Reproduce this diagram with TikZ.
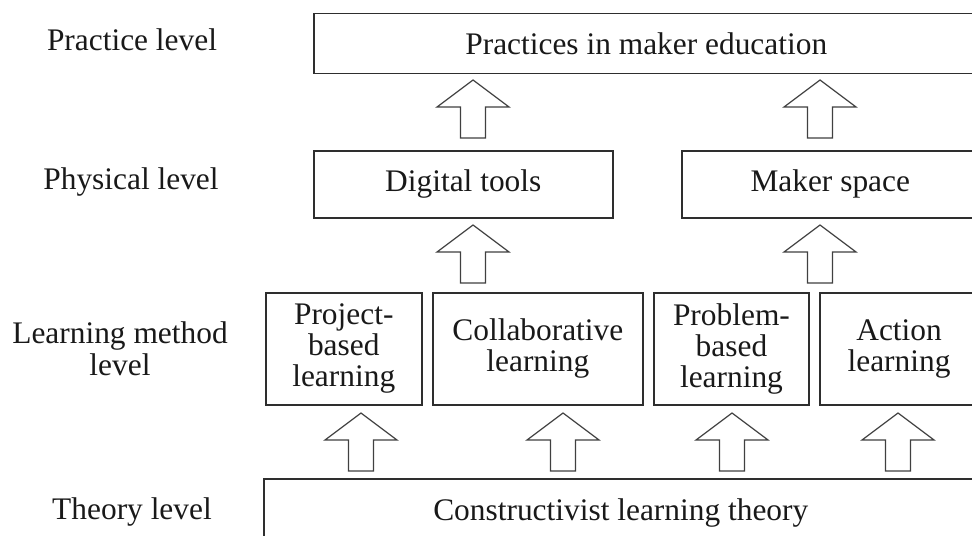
\documentclass[tikz,border=0pt]{standalone}
\usepackage{fontspec}
\setmainfont{Liberation Serif}
\usepackage{tikz}
\usetikzlibrary{positioning}
\definecolor{inkgray}{HTML}{2E2E2E}
\tikzset{
  levelbox/.style={
    draw=inkgray,
    line width=0.75pt,
    align=center,
    anchor=north west,
    inner sep=2pt,
    text=black!90,
    font=\fontsize{15.7pt}{15.4pt}\selectfont
  },
  levellabel/.style={
    align=center,
    inner sep=0pt,
    text=black!90,
    font=\fontsize{15.7pt}{16pt}\selectfont
  },
  hollowup/.pic={
    \draw[draw=black!75,line width=0.6pt,fill=white]
      (0,0) -- (36,27) -- (12.5,27) -- (12.5,58) -- (-12.5,58)
      -- (-12.5,27) -- (-36,27) -- cycle;
  }
}

\begin{document}
\begin{tikzpicture}[x=0.5pt,y=-0.5pt,node distance=4.8pt]
  \useasboundingbox (0,0) rectangle (972,535);
  \clip (0,0) rectangle (972,535);

  % level names on the left
  \node[levellabel] (lpractice) at (132,40) {Practice level};
  \node[levellabel] (lphysical) at (131,182) {Physical level};
  \node[levellabel] (lmethod) at (120,349) {Learning method\\level};
  \node[levellabel] (ltheory) at (132,512) {Theory level};

  % practice and physical rows
  \node[levelbox,minimum width=332.5pt,minimum height=30pt] (practice) at (313,13) {Practices in maker education};
  \node[levelbox,minimum width=149.5pt,minimum height=33.5pt] (digital) at (313,150) {Digital tools};
  \node[levelbox,minimum width=148.5pt,minimum height=33.5pt] (maker) at (681,150) {Maker space};

  % learning methods, side by side
  \node[levelbox,minimum width=78pt,minimum height=56pt] (project) at (265,292) {Project-\\based\\learning};
  \node[levelbox,minimum width=105pt,minimum height=56pt,right=of project] (collab) {Collaborative\\learning};
  \node[levelbox,minimum width=77.5pt,minimum height=56pt,right=of collab] (problem) {Problem-\\based\\learning};
  \node[levelbox,minimum width=79pt,minimum height=56pt,right=of problem] (action) {Action\\learning};

  % theory row
  \node[levelbox,minimum width=357pt,minimum height=34pt] (theory) at (263,478) {Constructivist learning theory};

  % hollow arrows between the rows
  \pic at (473,80) {hollowup};
  \pic at (820,80) {hollowup};
  \pic at (473,225) {hollowup};
  \pic at (820,225) {hollowup};
  \pic at (361,413) {hollowup};
  \pic at (563,413) {hollowup};
  \pic at (732,413) {hollowup};
  \pic at (898,413) {hollowup};
\end{tikzpicture}
\end{document}
